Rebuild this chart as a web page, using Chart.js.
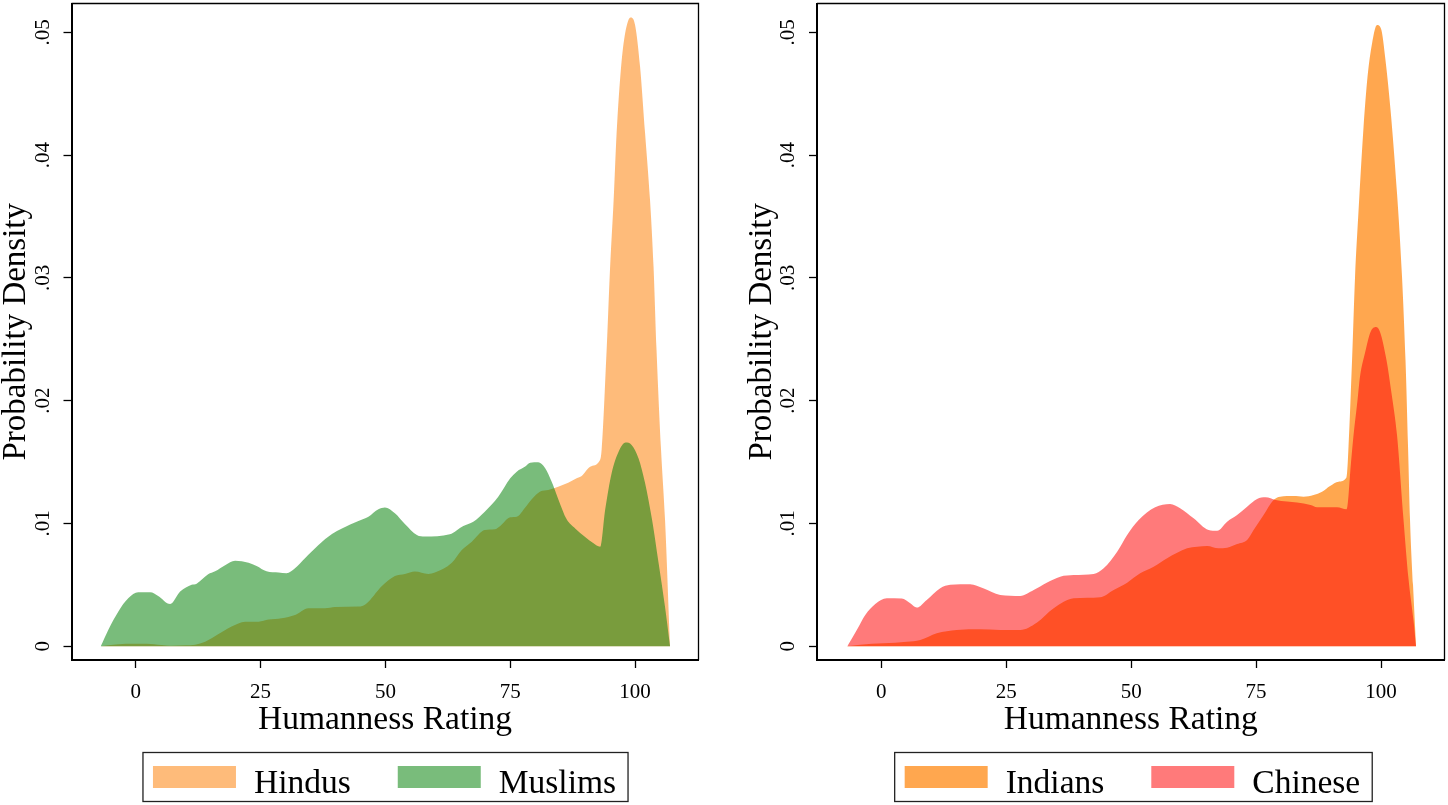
<!DOCTYPE html>
<html>
<head>
<meta charset="utf-8">
<script src="https://cdn.jsdelivr.net/npm/chart.js@4.4.1/dist/chart.umd.min.js"></script>
<style>
  html, body { margin: 0; padding: 0; background: #fff; }
  body { width: 1448px; height: 805px; position: relative; overflow: hidden; }
  .panel { position: absolute; top: 0; width: 724px; height: 805px; }
  #p1 { left: 0; }
  #p2 { left: 724px; }
</style>
</head>
<body>
<div class="panel" id="p1"><canvas id="c1" width="724" height="805"></canvas></div>
<div class="panel" id="p2"><canvas id="c2" width="724" height="805"></canvas></div>
<script>
// ---------- DATA ----------
const xTicks = [0, 25, 50, 75, 100];
const yTicks = [0, 0.01, 0.02, 0.03, 0.04, 0.05];
const xMin = -12.86, xMax = 112.7;
const yMin = -0.00112, yMax = 0.05235;

const leftLabels = ['Hindus', 'Muslims'];
const rightLabels = ['Indians', 'Chinese'];

const hindusX = [-7, -4, 0, 2.2, 5.2, 7, 10, 11.9, 13.9, 16.5, 19.2, 21.9, 24.6, 26.6, 29.2, 31.9, 34.6, 37.9, 39.9, 44.6, 46.1, 49.3, 51.9, 53.9, 55.9, 58.6, 59.9, 63.3, 65.3, 67.3, 69.9, 71.9, 73, 75, 76.3, 78, 79.3, 81, 82.6, 84.6, 86.6, 88.3, 89.3, 91, 92.9, 93.3, 94.3, 95, 95.7, 96.3, 97.2, 98, 99.1, 100, 101, 102, 103, 103.7, 104.3, 105.2, 106, 107];
const hindusY = [0, .00015, .0002, .0002, .0001, .00005, .00008, .00013, .00037, .00098, .0016, .0020, .0020, .00217, .00228, .00255, .0031, .0031, .0032, .00323, .00344, .0049, .00572, .00589, .00608, .00589, .0060, .0068, .00784, .00852, .00947, .00953, .0098, .0105, .01055, .0113, .01197, .0126, .01273, .0130, .01332, .01368, .01387, .01462, .0151, .0160, .0241, .0309, .0363, .0418, .0472, .0499, .0512, .0506, .0472, .0418, .0363, .0309, .0241, .0160, .0103, 0];

const muslimsX = [-7, -5.5, -3.5, -1.5, 0.5, 2.9, 4.5, 6.9, 8.9, 11.2, 12.2, 14.5, 15.9, 17.9, 19.9, 22.6, 24.2, 26.2, 28.6, 30.2, 31.9, 33.9, 36.6, 39.3, 41.3, 44.6, 46.6, 48.6, 49.9, 51.9, 53.9, 56.3, 57.9, 62.9, 65.6, 67.6, 69.9, 72.6, 75, 76.3, 78, 79, 80.6, 82, 83.3, 84.7, 86.3, 88, 90, 91.6, 93, 94, 95.3, 96.7, 98.1, 99.3, 100.7, 102, 103.4, 104.7, 106, 107];
const muslimsY = [0, .00133, .00282, .0039, .0044, .0044, .0041, .00344, .00445, .0050, .0051, .00586, .0061, .0066, .00697, .0068, .00654, .0061, .0060, .00594, .00635, .00717, .00825, .00914, .0096, .0102, .01055, .01115, .0113, .01083, .00996, .00906, .00893, .00912, .0098, .01015, .01096, .01218, .01368, .01422, .01463, .01495, .01498, .0145, .0134, .0119, .01034, .0096, .0089, .0084, .0081, .0111, .0141, .01585, .0166, .0164, .0153, .0133, .0103, .0068, .0032, 0];

const indiansX = [-7, -4.2, 0.4, 5.1, 7.8, 11.1, 15.1, 19.8, 23.8, 27.8, 31.1, 34.5, 38.5, 43.8, 46.5, 49.2, 51.8, 54.5, 57.2, 61.2, 63.2, 65.2, 67.5, 69.2, 71.2, 73.2, 74.5, 76.5, 78.5, 79.8, 82.5, 84.5, 86.5, 88.2, 89.8, 91.5, 93.1, 93.5, 94.2, 94.8, 95.5, 96.5, 97.3, 98.2, 99.2, 100, 100.9, 101.9, 103.2, 104.2, 104.9, 105.4, 105.8, 106.4, 107];
const indiansY = [0, .00013, .00024, .00037, .00051, .00106, .00133, .00138, .00133, .00133, .00192, .0031, .0039, .00399, .00458, .00518, .00594, .00648, .00717, .00798, .00811, .00817, .00798, .00803, .00833, .00866, .00947, .01069, .01191, .01218, .01224, .01218, .01232, .01259, .01305, .0134, .01376, .0163, .0233, .0301, .0355, .0423, .0464, .0491, .0506, .0503, .0477, .0437, .0369, .0301, .0233, .0163, .0103, .005, 0];

const chineseX = [-6.8, -4.9, -3.2, -1.2, 1.1, 4.1, 5.8, 7.1, 9.1, 11.8, 13.8, 17.8, 20.4, 23.8, 27.8, 30.5, 33.1, 35.8, 38.5, 42.5, 44.5, 47.2, 49.2, 51.5, 54.8, 57.8, 59.8, 62.5, 65.5, 67.2, 69.2, 71.2, 73.2, 75.2, 76.9, 78.9, 81.2, 83.2, 85.9, 87.2, 91.2, 93.1, 94.0, 94.5, 95.2, 95.8, 96.8, 97.9, 99, 99.8, 101.1, 102.1, 103.2, 104.5, 105.5, 106.5, 107];
const chineseY = [0, .00133, .00255, .00344, .0039, .00388, .0035, .00315, .00377, .00472, .0050, .00505, .00472, .00418, .0041, .00458, .00518, .00567, .0058, .00589, .00635, .0077, .00906, .01028, .01132, .01159, .01124, .01042, .00947, .00941, .01015, .01069, .01137, .0120, .01213, .01191, .01178, .0117, .0115, .01132, .01132, .01116, .0150, .0172, .0197, .0220, .0239, .0256, .0260, .0256, .0233, .0206, .0172, .0103, .0055, .0021, 0];

// ---------- HELPERS ----------
const FONT = '"Liberation Serif", "Times New Roman", serif';
Chart.defaults.font.family = FONT;
Chart.defaults.color = '#000';

function pts(xs, ys) { return xs.map((x, i) => ({ x: x, y: ys[i] })); }

function yLabel(v) {
  if (v === 0) return '0';
  return v.toFixed(2).replace(/^0/, '');
}

const framePlugin = {
  id: 'frame',
  afterDraw(chart) {
    const { ctx, chartArea: a } = chart;
    ctx.save();
    ctx.strokeStyle = '#000';
    ctx.lineWidth = 1.3;
    ctx.beginPath();
    ctx.moveTo(a.left, a.top);
    ctx.lineTo(a.right, a.top);
    ctx.lineTo(a.right, a.bottom);
    ctx.stroke();
    ctx.restore();
  }
};

const boxLegend = {
  id: 'boxLegend',
  afterDraw(chart, args, opts) {
    const ctx = chart.ctx;
    const a = chart.chartArea;
    ctx.save();
    ctx.font = '33.5px ' + FONT;
    const items = chart.data.datasets.map(d => ({
      label: d.label, color: d.backgroundColor, w: ctx.measureText(d.label).width
    }));
    const padL = 10, padR = 12, sw = 83, sh = 22, gap = 18, itemGap = 47;
    let total = padL + padR;
    items.forEach((it, i) => { total += sw + gap + it.w + (i ? itemGap : 0); });
    const cx = (a.left + a.right) / 2 + (opts.shift || 0);
    const x0 = cx - total / 2;
    const top = 752.5, bottom = 801.5;
    ctx.strokeStyle = '#222';
    ctx.lineWidth = 1.3;
    ctx.strokeRect(x0, top, total, bottom - top);
    let cur = x0 + padL;
    items.forEach((it, i) => {
      if (i) cur += itemGap;
      ctx.fillStyle = it.color;
      ctx.fillRect(cur, 766, sw, sh);
      cur += sw + gap;
      ctx.fillStyle = '#000';
      ctx.textBaseline = 'alphabetic';
      ctx.textAlign = 'left';
      ctx.fillText(it.label, cur, 793);
      cur += it.w;
    });
    ctx.restore();
  }
};

function makeOptions(yWidth, yTitlePad, padRight, legendShift) {
  return {
    responsive: false,
    animation: false,
    devicePixelRatio: 1,
    layout: { padding: { left: 0, top: 3.5, right: padRight, bottom: 68 } },
    plugins: {
      legend: { display: false },
      tooltip: { enabled: false },
      boxLegend: { shift: legendShift }
    },
    elements: {
      point: { radius: 0 },
      line: { borderWidth: 0, borderColor: 'rgba(0,0,0,0)', cubicInterpolationMode: 'monotone' }
    },
    scales: {
      x: {
        type: 'linear', min: xMin, max: xMax,
        afterBuildTicks: s => { s.ticks = xTicks.map(v => ({ value: v })); },
        afterFit: s => { s.height = 77; s.paddingLeft = 0; s.paddingRight = 0; },
        border: { display: true, color: '#000', width: 2 },
        grid: { drawOnChartArea: false, drawTicks: true, tickLength: 8, tickColor: '#000', tickWidth: 1.3 },
        ticks: { padding: 11.6, color: '#000', font: { size: 21 }, maxRotation: 0, minRotation: 0, autoSkip: false, callback: v => String(v) },
        title: { display: true, text: 'Humanness Rating', color: '#000', font: { size: 33.5, lineHeight: 1 }, padding: { top: 0, bottom: 0 } }
      },
      y: {
        type: 'linear', min: yMin, max: yMax,
        afterBuildTicks: s => { s.ticks = yTicks.map(v => ({ value: v })); },
        afterFit: s => { s.width = yWidth; s.paddingTop = 0; s.paddingBottom = 0; },
        border: { display: true, color: '#000', width: 2 },
        grid: { drawOnChartArea: false, drawTicks: true, tickLength: 8, tickColor: '#000', tickWidth: 1.3 },
        ticks: { padding: 6.9, color: '#000', font: { size: 21 }, minRotation: 90, maxRotation: 90, crossAlign: 'center', autoSkip: false, callback: v => yLabel(v) },
        title: { display: true, text: 'Probability Density', color: '#000', font: { size: 33, lineHeight: 1 }, padding: { top: yTitlePad, bottom: 0 } }
      }
    }
  };
}

new Chart(document.getElementById('c1'), {
  type: 'line',
  data: {
    datasets: [
      { label: leftLabels[0], data: pts(hindusX, hindusY), backgroundColor: 'rgba(253,124,0,0.52)', fill: 'origin', order: 1 },
      { label: leftLabels[1], data: pts(muslimsX, muslimsY), backgroundColor: 'rgba(2,129,6,0.53)', fill: 'origin', order: 0 }
    ]
  },
  options: makeOptions(71.5, 0.2, 25.5, 0.5),
  plugins: [framePlugin, boxLegend]
});

new Chart(document.getElementById('c2'), {
  type: 'line',
  data: {
    datasets: [
      { label: rightLabels[0], data: pts(indiansX, indiansY), backgroundColor: 'rgba(255,127,0,0.69)', fill: 'origin', order: 1 },
      { label: rightLabels[1], data: pts(chineseX, chineseY), backgroundColor: 'rgba(255,0,0,0.52)', fill: 'origin', order: 0 }
    ]
  },
  options: makeOptions(93, 21.7, 3.5, 2.7),
  plugins: [framePlugin, boxLegend]
});
</script>
</body>
</html>
